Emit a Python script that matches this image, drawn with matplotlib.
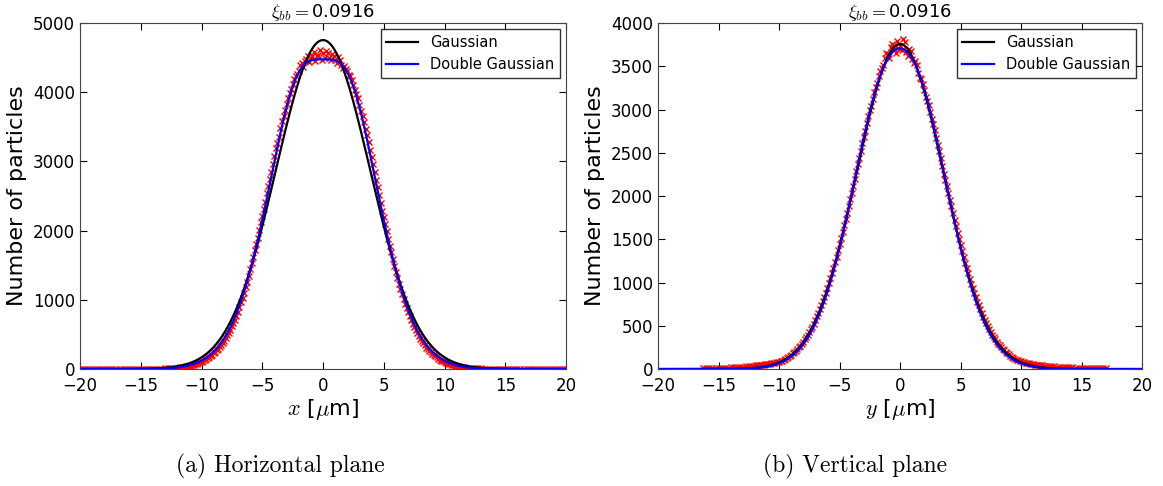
import numpy as np
import matplotlib
matplotlib.use('Agg')
import matplotlib.pyplot as plt

plt.rcParams['font.family'] = ['DejaVu Sans']
plt.rcParams['mathtext.fontset'] = 'cm'
plt.rcParams['xtick.direction'] = 'in'
plt.rcParams['ytick.direction'] = 'in'
plt.rcParams['xtick.top'] = True
plt.rcParams['ytick.right'] = True

# histogram counts, bins every 0.25 um (plus the in-between bins of the core)
bin_step = 0.25
x_start_h = -20.0
counts_h = [
    0, 1, 0, 1, 0, 1, 1, 0, 1, 1, 2, 1, 2, 2, 1, 2,
    2, 3, 2, 3, 3, 4, 3, 4, 5, 5, 6, 7, 8, 9, 10, 12,
    18, 25, 30, 38, 45, 58, 70, 88, 105, 128, 158, 190, 228, 272, 318, 380,
    445, 520, 615, 712, 830, 962, 1098, 1262, 1440, 1620, 1805, 2010, 2215, 2420, 2640, 2850,
    3075, 3270, 3480, 3660, 3830, 3990, 4120, 4240, 4310, 4420, 4450, 4530, 4490, 4580, 4520, 4610,
    4560,
    4600, 4490, 4550, 4470, 4510, 4400, 4380, 4300, 4230, 4110, 3980, 3820, 3660, 3470, 3280, 3060,
    2850, 2630, 2400, 2190, 1990, 1780, 1590, 1400, 1235, 1080, 945, 820, 705, 610, 515, 440,
    370, 310, 262, 220, 185, 150, 122, 100, 82, 66, 52, 42, 33, 26, 20, 15,
    12, 10, 9, 8, 6, 5, 5, 4, 3, 3, 3, 2, 2, 2, 1, 2,
    1, 1, 1, 1, 0, 1, 0, 1, 0, 1, 0, 0, 1, 0, 0, 0,
]
x_start_h_mid = -11.875
counts_h_mid = [
    20, 28, 33, 42, 50, 65, 78, 95, 118, 140, 176, 205, 252, 292, 352, 410,
    485, 560, 670, 765, 900, 1025, 1185, 1345, 1535, 1720, 1900, 2120, 2310, 2540, 2750, 2970,
    3190, 3360, 3580, 3740, 3920, 4040, 4190, 4260, 4390, 4370, 4480, 4440, 4520, 4450, 4540, 4470,
    4500, 4560, 4460, 4530, 4420, 4470, 4350, 4330, 4250, 4180, 4030, 3910, 3730, 3570, 3380, 3160,
    2960, 2730, 2520, 2290, 2090, 1880, 1690, 1490, 1320, 1150, 1010, 880, 760, 655, 560, 475,
    405, 340, 285, 240, 202, 168, 136, 110, 90, 74, 58, 47, 37, 29, 23, 17,
]
x_start_v = -16.25
counts_v = [
    8, 9, 10, 10, 12, 13, 14, 15, 17, 18, 20, 22, 24, 27, 30, 33, 36,
    40, 44, 48, 52, 57, 62, 68, 76, 85, 98, 115, 138, 165, 196, 232, 270,
    318, 370, 430, 490, 565, 648, 738, 830, 935, 1048, 1170, 1300, 1440, 1585, 1730, 1890,
    2040, 2200, 2370, 2520, 2680, 2840, 2990, 3120, 3260, 3390, 3480, 3600, 3640, 3720, 3700, 3790,
    3740,
    3810, 3660, 3700, 3580, 3560, 3420, 3350, 3230, 3100, 2970, 2830, 2670, 2520, 2350, 2190, 2030,
    1880, 1720, 1575, 1430, 1295, 1165, 1045, 932, 828, 735, 645, 565, 492, 428, 370, 318,
    272, 232, 198, 168, 142, 120, 102, 88, 77, 68, 60, 54, 49, 45, 41, 38,
    35, 32, 30, 28, 26, 24, 22, 20, 19, 17, 16, 15, 14, 13, 12, 11, 10, 9, 9, 8,
]
x_start_v_mid = -11.875
counts_v_mid = [
    42, 46, 50, 55, 60, 65, 72, 80, 92, 105, 126, 150, 182, 212, 252, 292,
    345, 398, 462, 525, 608, 690, 785, 880, 992, 1110, 1232, 1372, 1510, 1660, 1805, 1965,
    2120, 2290, 2440, 2610, 2750, 2920, 3040, 3200, 3310, 3450, 3520, 3650, 3600, 3760, 3650, 3700,
    3690, 3780, 3620, 3680, 3540, 3520, 3370, 3300, 3150, 3050, 2890, 2760, 2590, 2440, 2260, 2120,
    1950, 1800, 1650, 1500, 1365, 1228, 1105, 985, 880, 780, 690, 605, 528, 460, 398, 342,
    295, 252, 215, 183, 155, 131, 110, 95, 82, 72, 64, 57, 51, 47, 43, 39,
]

# fit parameters: (amplitude, sigma) pairs
gauss_h = [(4754, 3.87)]
dgauss_h = [(5690, 3.6), (-1215, 1.66)]
gauss_v = [(3757, 3.58)]
dgauss_v = [(3900, 3.5), (-193, 1.5)]

titles = [r'$\xi_{bb}=$0.0916', r'$\xi_{bb}=$0.0916']
xlabels = [r'$x$ [$\mu$m]', r'$y$ [$\mu$m]']
captions = ['(a) Horizontal plane', '(b) Vertical plane']


def model(x, params):
    y = np.zeros_like(x)
    for a, s in params:
        y += a * np.exp(-x**2 / (2 * s**2))
    return y


fig = plt.figure(figsize=(11.63, 4.86), dpi=100)
ax1 = fig.add_axes([0.0688, 0.2407, 0.4179, 0.7119])
ax2 = fig.add_axes([0.5658, 0.2407, 0.4162, 0.7119])

xx = np.linspace(-20, 20, 1001)
setups = [
    (ax1, x_start_h, counts_h, x_start_h_mid, counts_h_mid, gauss_h, dgauss_h, 5000, 1000, 4),
    (ax2, x_start_v, counts_v, x_start_v_mid, counts_v_mid, gauss_v, dgauss_v, 4000, 500, 5),
]
for i, (ax, x0, counts, xm0, counts_mid, g, dg, ymax, ystep, ms) in enumerate(setups):
    xs = x0 + bin_step * np.arange(len(counts))
    xm = xm0 + bin_step * np.arange(len(counts_mid))
    ax.plot(xs, counts, 'x', color='r', markersize=ms, markeredgewidth=1)
    ax.plot(xm, counts_mid, 'x', color='r', markersize=ms, markeredgewidth=1)
    ax.plot(xx, model(xx, g), color='k', linewidth=1.6, label='Gaussian')
    ax.plot(xx, model(xx, dg), color='b', linewidth=1.6, label='Double Gaussian')
    ax.set_xlim(-20, 20)
    ax.set_ylim(0, ymax)
    ax.set_xticks(np.arange(-20, 21, 5))
    ax.set_yticks(np.arange(0, ymax + 1, ystep))
    ax.tick_params(labelsize=12, length=5)
    ax.tick_params(axis='x', pad=6)
    ax.set_title(titles[i], fontsize=13, pad=2)
    ax.set_xlabel(xlabels[i], fontsize=16, labelpad=1)
    ax.set_ylabel('Number of particles', fontsize=16)
    leg = ax.legend(loc='upper right', fontsize=10.5, fancybox=False,
                    handlelength=2.2, borderaxespad=0.4)
    leg.get_frame().set_edgecolor('k')
    for sp in ax.spines.values():
        sp.set_color('#444444')

fig.text(0.241, 0.04, captions[0], fontfamily='cmr10', fontsize=17, ha='center', va='center')
fig.text(0.735, 0.04, captions[1], fontfamily='cmr10', fontsize=17, ha='center', va='center')

fig.savefig('out.png', dpi=100)
